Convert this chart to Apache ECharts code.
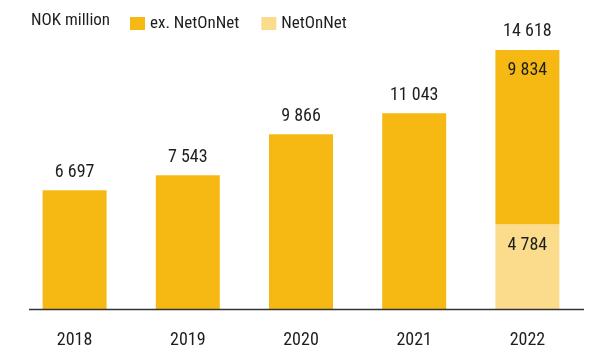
<!DOCTYPE html>
<html><head><meta charset="utf-8">
<script src="https://cdn.jsdelivr.net/npm/echarts@6/dist/echarts.min.js"></script>
<style>html,body{margin:0;padding:0;background:#fff}#c{width:589px;height:352px}</style>
</head><body><div id="c"></div>
<script>
const categories = ['2018', '2019', '2020', '2021', '2022'];
const exNetOnNet = [6697, 7543, 9866, 11043, 9834];
const netOnNet = [null, null, null, null, 4784];
const totals = [6697, 7543, 9866, 11043, 14618];
const seriesNames = ['ex. NetOnNet', 'NetOnNet'];

const FONT = '"Roboto Condensed", "DejaVu Sans Condensed", sans-serif';
const fmt = v => String(v).replace(/\B(?=(\d{3})+(?!\d))/g, ' ');
const chart = echarts.init(document.getElementById('c'), null, {renderer: 'canvas'});
chart.setOption({
  animation: false,
  textStyle: {fontFamily: FONT, color: '#1e1e1e'},
  title: {text: 'NOK million', left: 26, top: 7, textStyle: {fontFamily: FONT, fontSize: 17, fontWeight: 'normal', color: '#1e1e1e'}},
  legend: {
    data: seriesNames, left: 125, top: 10, itemWidth: 15, itemHeight: 13, itemGap: 22,
    icon: 'rect', textStyle: {fontFamily: FONT, fontSize: 17, color: '#1e1e1e'}
  },
  grid: {left: 18, right: 5, top: 25.5, bottom: 43, containLabel: false},
  xAxis: {
    type: 'category', data: categories,
    axisLine: {show: false}, axisTick: {show: false},
    axisLabel: {fontFamily: FONT, fontSize: 18, color: '#1e1e1e', margin: 22}
  },
  yAxis: {type: 'value', min: 0, max: 16000, show: false, splitLine: {show: false}},
  graphic: [{type: 'line', shape: {x1: 29, y1: 309.5, x2: 584, y2: 309.5}, style: {stroke: '#333', lineWidth: 1.5}, z: 10}],
  series: [
    {
      name: 'NetOnNet', type: 'bar', stack: 's', barWidth: 64,
      itemStyle: {color: '#FBDC8C'},
      data: netOnNet,
      label: {show: true, position: 'insideTop', distance: 12, fontFamily: FONT, fontSize: 18, color: '#1e1e1e', formatter: p => fmt(p.value)}
    },
    {
      name: 'ex. NetOnNet', type: 'bar', stack: 's', barWidth: 64,
      itemStyle: {color: '#F6B913'},
      data: exNetOnNet.map((v, i) => netOnNet[i] != null ? {value: v, label: {show: true}} : {value: v}),
      label: {show: false, position: 'insideTop', distance: 12, fontFamily: FONT, fontSize: 18, color: '#1e1e1e', formatter: p => fmt(p.value)}
    },
    {
      name: 'total', type: 'bar', stack: 's', barWidth: 64,
      itemStyle: {color: 'transparent'},
      data: totals.map(() => 0),
      label: {show: true, position: 'top', distance: 9, fontFamily: FONT, fontSize: 18, color: '#1e1e1e', formatter: p => fmt(totals[p.dataIndex])}
    }
  ]
});
</script></body></html>
